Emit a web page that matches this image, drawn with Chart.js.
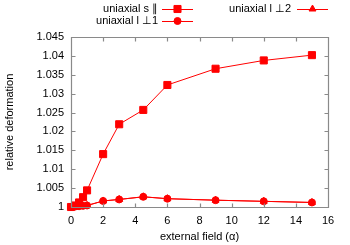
<!DOCTYPE html>
<html><head><meta charset="utf-8">
<script src="https://cdn.jsdelivr.net/npm/chart.js@4/dist/chart.umd.min.js"></script>
<style>html,body{margin:0;padding:0;background:#fff}#wrap{width:350px;height:245px}</style>
</head><body><div id="wrap"><canvas id="c" width="350" height="245"></canvas></div>
<script>
const fieldValues = [0, 0.25, 0.5, 0.75, 1, 2, 3, 4.5, 6, 9, 12, 15];
const sPar   = [1.0, 1.0004, 1.0012, 1.0026, 1.0044, 1.0140, 1.0219, 1.0257, 1.0323, 1.0366, 1.0388, 1.0402];
const lPerp1 = [1.0, 1.0001, 1.0002, 1.0003, 1.0004, 1.0016, 1.0020, 1.0027, 1.0022, 1.0018, 1.0015, 1.0012];
const lPerp2 = [1.0, 1.0001, 1.0002, 1.0003, 1.0004, 1.0016, 1.0020, 1.0027, 1.0022, 1.0018, 1.0015, 1.0012];
const seriesLabels = ['uniaxial s \u2225', 'uniaxial l \u22a51', 'uniaxial l \u22a52'];
const xTitle = 'external field (\u03b1)';
const yTitle = 'relative deformation';

const FONT = 'Liberation Sans, Arial, sans-serif';
const toPts = ys => fieldValues.map((x, i) => ({x: x, y: ys[i]}));

const gnuFrame = {
  id: 'gnuFrame',
  afterDatasetsDraw(chart) {
    const {ctx, chartArea: a, scales} = chart;
    ctx.save();
    ctx.strokeStyle = '#8a8a8a';
    ctx.lineWidth = 1.2;
    ctx.beginPath();
    const L = Math.round(a.left) + 0.5, R = Math.round(a.right) + 0.5, T = Math.round(a.top) + 0.5, B = Math.round(a.bottom) + 0.5;
    ctx.rect(L, T, R - L, B - T);
    const len = 4;
    scales.x.ticks.forEach(t => {
      const px = Math.round(scales.x.getPixelForValue(t.value)) + 0.5;
      ctx.moveTo(px, B); ctx.lineTo(px, B - len);
      ctx.moveTo(px, T); ctx.lineTo(px, T + len);
    });
    scales.y.ticks.forEach(t => {
      const py = Math.round(scales.y.getPixelForValue(t.value)) + 0.5;
      ctx.moveTo(L, py); ctx.lineTo(L + len, py);
      ctx.moveTo(R, py); ctx.lineTo(R - len, py);
    });
    ctx.stroke();
    ctx.restore();
  }
};

const gnuLegend = {
  id: 'gnuLegend',
  afterDraw(chart) {
    const {ctx} = chart;
    const slots = [
      {ds: 0, textRight: 158, y: 9,  x1: 162, x2: 193},
      {ds: 1, textRight: 158, y: 21, x1: 162, x2: 193},
      {ds: 2, textRight: 291, y: 9,  x1: 297, x2: 328}
    ];
    ctx.save();
    ctx.font = '11px ' + FONT;
    ctx.textAlign = 'right';
    ctx.textBaseline = 'middle';
    slots.forEach(s => {
      const d = chart.data.datasets[s.ds];
      ctx.fillStyle = '#000';
      ctx.fillText(d.label, s.textRight, s.y);
      ctx.strokeStyle = d.borderColor;
      ctx.lineWidth = 1;
      ctx.beginPath();
      ctx.moveTo(s.x1, s.y + 0.5); ctx.lineTo(s.x2, s.y + 0.5);
      ctx.stroke();
      ctx.fillStyle = d.backgroundColor;
      Chart.helpers.drawPoint(ctx, {pointStyle: d.pointStyle, radius: d.pointRadius, borderWidth: 1, rotation: 0}, (s.x1 + s.x2) / 2, s.y);
    });
    ctx.restore();
  }
};

new Chart(document.getElementById('c'), {
  type: 'line',
  data: {
    datasets: [
      {label: seriesLabels[0], data: toPts(sPar), pointStyle: 'rect', pointRadius: 5},
      {label: seriesLabels[1], data: toPts(lPerp1), pointStyle: 'circle', pointRadius: 3.5},
      {label: seriesLabels[2], data: toPts(lPerp2), pointStyle: 'triangle', pointRadius: 4}
    ].map(d => Object.assign({
      borderColor: '#ff0000', backgroundColor: '#ff0000', borderWidth: 1,
      pointBorderWidth: 1, pointHoverRadius: d.pointRadius, tension: 0, clip: false, fill: false
    }, d))
  },
  options: {
    responsive: false,
    animation: false,
    events: [],
    layout: {padding: {top: 37, right: 22, left: 0, bottom: 0}},
    plugins: {legend: {display: false}, tooltip: {enabled: false}},
    scales: {
      x: {
        type: 'linear', min: 0, max: 16,
        grid: {display: false, drawTicks: false},
        border: {display: false},
        ticks: {stepSize: 2, color: '#000', font: {family: FONT, size: 11}, padding: 7, maxRotation: 0, autoSkip: false},
        title: {display: true, text: xTitle, color: '#000', font: {family: FONT, size: 11}, padding: {top: 0, bottom: 1.5}},
        afterFit(s) { s.height = 38; }
      },
      y: {
        type: 'linear', min: 1, max: 1.045,
        grid: {display: false, drawTicks: false},
        border: {display: false},
        ticks: {stepSize: 0.005, color: '#000', font: {family: FONT, size: 11}, padding: 7, autoSkip: false,
          callback: v => String(Number(v.toFixed(3)))},
        title: {display: true, text: yTitle, color: '#000', font: {family: FONT, size: 11}, padding: {top: 3.4, bottom: 0}},
        afterFit(s) { s.width = 71; }
      }
    }
  },
  plugins: [gnuFrame, gnuLegend]
});
</script>
</body></html>
